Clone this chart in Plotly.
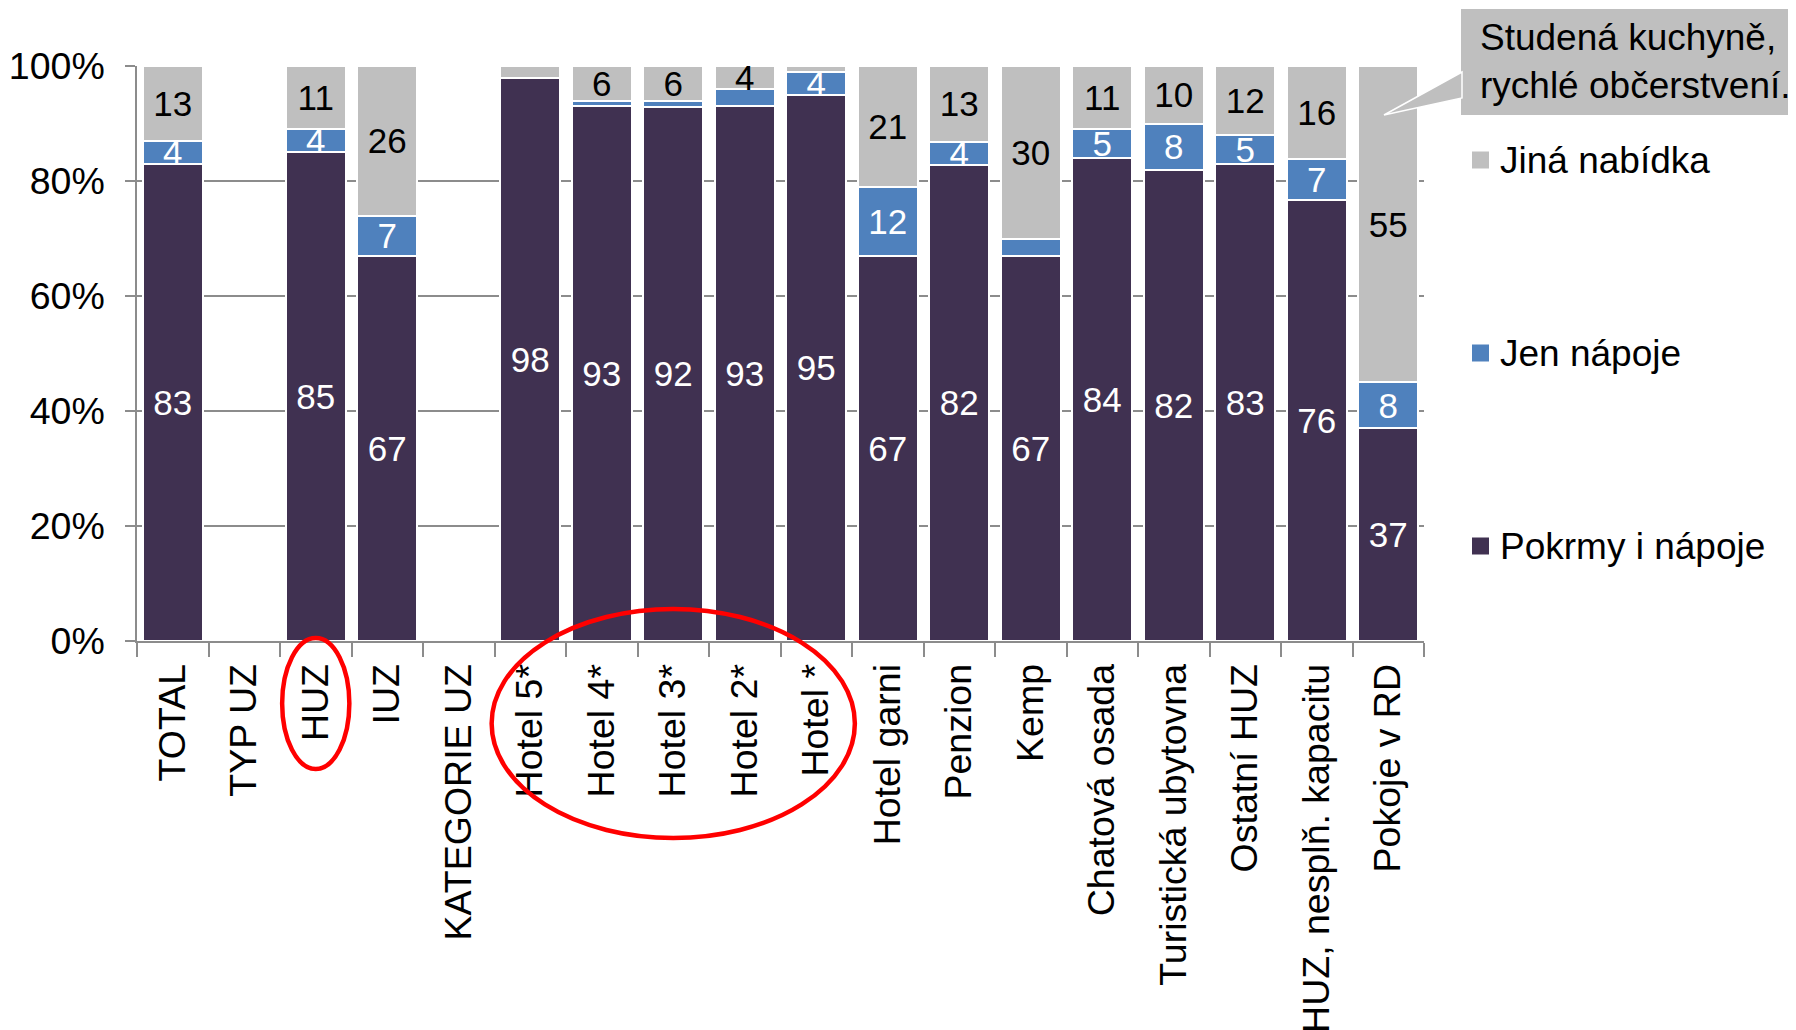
import plotly.graph_objects as go

categories = ["TOTAL", "TYP UZ", "HUZ", "IUZ", "KATEGORIE UZ",
              "Hotel 5*", "Hotel 4*", "Hotel 3*", "Hotel 2*", "Hotel *",
              "Hotel garni", "Penzion", "Kemp", "Chatová osada",
              "Turistická ubytovna", "Ostatní HUZ", "HUZ, nesplň. kapacitu",
              "Pokoje v RD"]
pokrmy = [83, None, 85, 67, None, 98, 93, 92, 93, 95, 67, 82, 67, 84, 82, 83, 76, 37]
napoje = [4, None, 4, 7, None, 0, 1, 1, 3, 4, 12, 4, 3, 5, 8, 5, 7, 8]
jina = [13, None, 11, 26, None, 2, 6, 6, 4, 1, 21, 13, 30, 11, 10, 12, 16, 55]
y_ticks = [0, 20, 40, 60, 80, 100]

series = [
    ("Pokrmy i nápoje", pokrmy, "#403151", "white"),
    ("Jen nápoje", napoje, "#4F81BD", "white"),
    ("Jiná nabídka", jina, "#BFBFBF", "black"),
]

FONT = "Liberation Sans"
W, H = 1796, 1030
OFF = 8  # page body margin
# plot area in page pixels
L, R, T, B = 137, 1424, 66, 641


def px(x):
    return (x - L) / (R - L)


def py(y):
    return (B - y) / (B - T)


def cat_x(idx, off=0.0):
    n = len(categories)
    return (idx + 0.5 + off) / n


fig = go.Figure()
for name, vals, color, tcolor in series:
    labels = ["" if v is None or v < 4 else str(v) for v in vals]
    fig.add_trace(go.Bar(
        x=categories,
        y=vals,
        name=name,
        marker=dict(color=color, line=dict(color="white", width=2)),
        text=labels,
        textposition="inside",
        insidetextanchor="middle",
        constraintext="none",
        textangle=0,
        textfont=dict(family=FONT, size=35, color=tcolor),
        showlegend=False,
    ))

shapes = []
annotations = []

# red ellipses
huz = categories.index("HUZ")
shapes.append(dict(type="circle", xref="paper", yref="paper",
                   x0=cat_x(huz, -0.47), x1=cat_x(huz, 0.47),
                   y0=py(769), y1=py(638),
                   line=dict(color="#FF0000", width=4.5), layer="above"))
h3 = categories.index("Hotel 3*")
shapes.append(dict(type="circle", xref="paper", yref="paper",
                   x0=cat_x(h3, -2.54), x1=cat_x(h3, 2.54),
                   y0=py(838), y1=py(609),
                   line=dict(color="#FF0000", width=4.5), layer="above"))

# callout box with pointer
shapes.append(dict(type="rect", xref="paper", yref="paper",
                   x0=px(1461), x1=px(1810), y0=py(115), y1=py(9),
                   fillcolor="#BFBFBF", line=dict(width=0), layer="above"))
shapes.append(dict(type="path", xref="paper", yref="paper",
                   path=f"M {px(1462)} {py(72)} L {px(1384)} {py(115)} L {px(1462)} {py(98)} Z",
                   fillcolor="#BFBFBF", line=dict(color="white", width=1.5), layer="above"))
annotations.append(dict(
    xref="paper", yref="paper", x=px(1478), y=py(62),
    xanchor="left", yanchor="middle", align="left",
    text="Studená kuchyně,<br>rychlé občerstvení.",
    showarrow=False, font=dict(family=FONT, size=37, color="black"),
))

# legend (drawn by hand, top to bottom: last series first)
legend_y = [160, 353, 546]
for (name, vals, color, tcolor), ly in zip(reversed(series), legend_y):
    shapes.append(dict(type="rect", xref="paper", yref="paper",
                       x0=px(1472), x1=px(1489), y0=py(ly + 8.5), y1=py(ly - 8.5),
                       fillcolor=color, line=dict(width=0)))
    annotations.append(dict(
        xref="paper", yref="paper", x=px(1498), y=py(ly),
        xanchor="left", yanchor="middle", text=name, showarrow=False,
        font=dict(family=FONT, size=37, color="black"),
    ))

fig.update_layout(
    width=W, height=H,
    margin=dict(l=L - OFF, r=W - R + OFF, t=T - OFF, b=H - B + OFF, pad=0),
    barmode="stack",
    barnorm="percent",
    bargap=0.16,
    plot_bgcolor="white",
    paper_bgcolor="white",
    font=dict(family=FONT, size=36, color="black"),
    shapes=shapes,
    annotations=annotations,
    showlegend=False,
    xaxis=dict(
        type="category",
        automargin=False,
        tickangle=-90,
        ticks="outside", tickson="boundaries", ticklen=14, tickwidth=1.5,
        tickcolor="#8C8C8C",
        showline=True, linecolor="#8C8C8C", linewidth=2,
        ticklabelstandoff=6,
        tickfont=dict(family=FONT, size=37.5, color="black"),
        showgrid=False,
    ),
    yaxis=dict(
        range=[0, 100],
        automargin=False,
        tickmode="array",
        tickvals=y_ticks,
        ticktext=[f"{v}%" for v in y_ticks],
        ticks="outside", ticklen=10, tickwidth=1.5, tickcolor="#8C8C8C",
        showline=True, linecolor="#8C8C8C", linewidth=1.5,
        showgrid=True, gridcolor="#8C8C8C", gridwidth=2,
        ticklabelstandoff=13,
        tickfont=dict(family=FONT, size=37.5, color="black"),
        zeroline=False,
    ),
)

fig.write_html("out.html")
